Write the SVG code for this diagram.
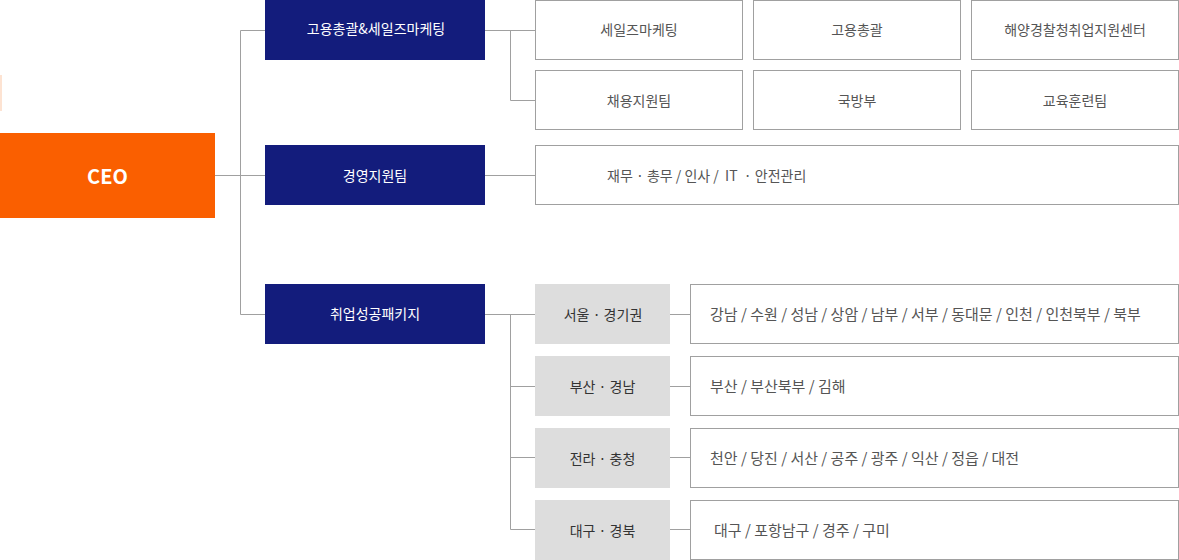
<svg xmlns="http://www.w3.org/2000/svg" width="1179" height="560" viewBox="0 0 1179 560">
<style>
text{font-family:"Noto Sans CJK KR","Noto Sans",sans-serif;dominant-baseline:central}
.navy{fill:#131c7c}
.wt{fill:#ffffff;font-size:14px;text-anchor:middle}
.box{fill:#ffffff;stroke:#a0a0a0;stroke-width:1}
.bt{fill:#555555;font-size:14px;text-anchor:middle}
.dt{fill:#555555;font-size:14px}
.rt{fill:#555555;font-size:15px}
.gray{fill:#dddddd}
.gt{fill:#333333;font-size:14px;text-anchor:middle}
.ln{stroke:#a0a0a0;stroke-width:1;fill:none}
</style>
<rect x="0" y="75" width="2" height="36" fill="#fde3d2"/>
<g id="connectors">
<path class="ln" d="M215 175.5H265M240.5 30.5V314.5M240.5 30.5H265M240.5 314.5H265"/>
<path class="ln" d="M485 30.5H535M510.5 30.5V100.5H535"/>
<path class="ln" d="M485 175.5H535"/>
<path class="ln" d="M485 314.5H535M510.5 314.5V529.5H535M510.5 386.5H535M510.5 457.5H535"/>
<path class="ln" d="M670 314.5H690M670 386.5H690M670 457.5H690M670 529.5H690"/>
</g>
<g id="ceo"><rect x="0" y="133" width="215" height="85" fill="#fa5f00"/><text x="107.5" y="175.5" fill="#ffffff" font-size="20" font-weight="bold" text-anchor="middle">CEO</text></g>
<g id="n1"><rect class="navy" x="265" y="0" width="220" height="60"/><text class="wt" x="376" y="28">고용총괄&amp;세일즈마케팅</text></g>
<g id="n2"><rect class="navy" x="265" y="145" width="220" height="60"/><text class="wt" x="375" y="175">경영지원팀</text></g>
<g id="n3"><rect class="navy" x="265" y="284" width="220" height="60"/><text class="wt" x="375" y="313">취업성공패키지</text></g>
<g id="s1"><rect class="box" x="535.5" y="0.5" width="207" height="59"/><text class="bt" x="639" y="29">세일즈마케팅</text></g>
<g id="s2"><rect class="box" x="753.5" y="0.5" width="207" height="59"/><text class="bt" x="857" y="29">고용총괄</text></g>
<g id="s3"><rect class="box" x="971.5" y="0.5" width="207" height="59"/><text class="bt" x="1075" y="29">해양경찰청취업지원센터</text></g>
<g id="s4"><rect class="box" x="535.5" y="70.5" width="207" height="59"/><text class="bt" x="639" y="100">채용지원팀</text></g>
<g id="s5"><rect class="box" x="753.5" y="70.5" width="207" height="59"/><text class="bt" x="857" y="100">국방부</text></g>
<g id="s6"><rect class="box" x="971.5" y="70.5" width="207" height="59"/><text class="bt" x="1075" y="100">교육훈련팀</text></g>
<g id="s7"><rect class="box" x="535.5" y="145.5" width="643" height="59"/><text class="dt" x="607" y="175" xml:space="preserve">재무 · 총무 / 인사 /  IT  · 안전관리</text></g>
<g id="r1"><rect class="gray" x="535" y="284" width="135" height="60"/><text class="gt" x="603" y="314">서울 · 경기권</text></g>
<g id="r2"><rect class="gray" x="535" y="356" width="135" height="60"/><text class="gt" x="602.5" y="386">부산 · 경남</text></g>
<g id="r3"><rect class="gray" x="535" y="428" width="135" height="60"/><text class="gt" x="602.5" y="458">전라 · 충청</text></g>
<g id="r4"><rect class="gray" x="535" y="500" width="135" height="60"/><text class="gt" x="602.5" y="530">대구 · 경북</text></g>
<g id="d1"><rect class="box" x="690.5" y="284.5" width="488" height="59"/><text class="rt" x="710" y="313">강남 / 수원 / 성남 / 상암 / 남부 / 서부 / 동대문 / 인천 / 인천북부 / 북부</text></g>
<g id="d2"><rect class="box" x="690.5" y="356.5" width="488" height="59"/><text class="rt" x="710" y="385">부산 / 부산북부 / 김해</text></g>
<g id="d3"><rect class="box" x="690.5" y="428.5" width="488" height="59"/><text class="rt" x="710" y="457">천안 / 당진 / 서산 / 공주 / 광주 / 익산 / 정읍 / 대전</text></g>
<g id="d4"><rect class="box" x="690.5" y="500.5" width="488" height="59"/><text class="rt" x="714" y="529">대구 / 포항남구 / 경주 / 구미</text></g>
</svg>
